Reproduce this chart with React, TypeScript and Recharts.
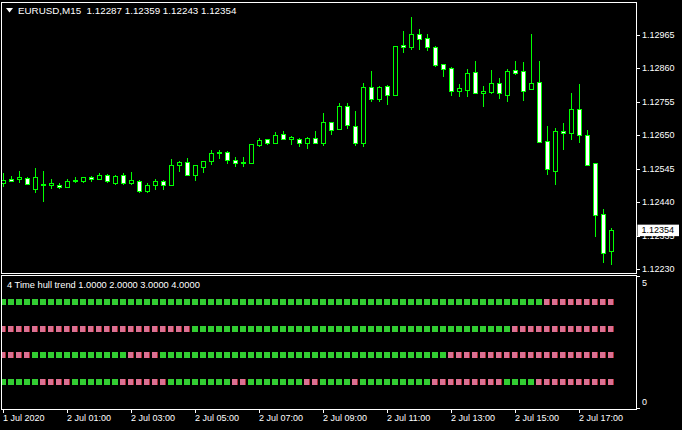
import React from 'react';
import { ComposedChart, Bar, Scatter, XAxis, YAxis, ReferenceLine } from 'recharts';

const W = 682;
const H = 430;
const FONT = '"Liberation Sans", Arial, sans-serif';
const LIME = '#00ff00';
const UP = '#32cd32';
const DOWN = '#db7093';

// EURUSD M15, 1 Jul 23:00 .. 2 Jul 18:00
const opens = [
  1.125, 1.12514, 1.12514, 1.12516, 1.12481, 1.12496, 1.12493, 1.12495, 1.12489, 1.12506,
  1.12508, 1.12518, 1.12512, 1.12524, 1.12501, 1.12524, 1.12501, 1.12508, 1.12474, 1.12495,
  1.12508, 1.12495, 1.12556, 1.12566, 1.12524, 1.12551, 1.12568, 1.12593, 1.12597, 1.12572,
  1.12562, 1.12564, 1.1262, 1.12637, 1.12625, 1.12654, 1.12639, 1.12639, 1.12627, 1.12641,
  1.12625, 1.12691, 1.1267, 1.12742, 1.12679, 1.12627, 1.128, 1.12764, 1.12804, 1.12775,
  1.12932, 1.12926, 1.12967, 1.12955, 1.12926, 1.12873, 1.12861, 1.12788, 1.12792, 1.12848,
  1.12781, 1.12785, 1.12813, 1.12777, 1.12854, 1.1285, 1.12794, 1.12817, 1.12631, 1.12539,
  1.12662, 1.12656, 1.12731, 1.1265, 1.12562, 1.12403, 1.12287,
];
const highs = [
  1.12532, 1.12522, 1.12537, 1.1252, 1.12547, 1.12537, 1.12514, 1.12501, 1.12514, 1.1252,
  1.12519, 1.12522, 1.12531, 1.12528, 1.12526, 1.12531, 1.12535, 1.1251, 1.12499, 1.12512,
  1.12509, 1.12575, 1.1257, 1.12578, 1.12557, 1.12569, 1.12604, 1.12604, 1.126, 1.12581,
  1.12581, 1.12623, 1.12641, 1.12638, 1.1266, 1.12662, 1.12648, 1.1264, 1.12643, 1.12662,
  1.12721, 1.12692, 1.12752, 1.12752, 1.12727, 1.12813, 1.12852, 1.12804, 1.12808, 1.12931,
  1.12978, 1.13021, 1.12984, 1.12967, 1.1293, 1.12874, 1.12865, 1.12811, 1.12857, 1.12884,
  1.12804, 1.12854, 1.12829, 1.12857, 1.12884, 1.12879, 1.12967, 1.12884, 1.12679, 1.12673,
  1.12689, 1.12783, 1.12811, 1.12666, 1.12563, 1.12418, 1.12359,
];
const lows = [
  1.12488, 1.12503, 1.12499, 1.12493, 1.1247, 1.12442, 1.12481, 1.12482, 1.12488, 1.12499,
  1.12499, 1.12503, 1.12511, 1.12501, 1.12495, 1.12495, 1.12495, 1.12468, 1.12468, 1.12478,
  1.12478, 1.12491, 1.12535, 1.12523, 1.12508, 1.12533, 1.12558, 1.12576, 1.1256, 1.1255,
  1.1255, 1.12563, 1.12612, 1.1262, 1.12624, 1.12638, 1.1262, 1.12614, 1.12608, 1.12626,
  1.12616, 1.12652, 1.12669, 1.1267, 1.12616, 1.12612, 1.12754, 1.12754, 1.12746, 1.12774,
  1.12907, 1.12917, 1.12917, 1.12913, 1.12865, 1.12833, 1.12773, 1.12771, 1.12771, 1.12782,
  1.12739, 1.12779, 1.12764, 1.12755, 1.1284, 1.12758, 1.12793, 1.12627, 1.12524, 1.12495,
  1.12604, 1.12635, 1.12627, 1.12555, 1.1233, 1.1225, 1.12243,
];
const closes = [
  1.1251, 1.12508, 1.12518, 1.12497, 1.12518, 1.12498, 1.12499, 1.12489, 1.12506, 1.1251,
  1.12518, 1.12512, 1.12524, 1.12506, 1.12522, 1.12501, 1.1251, 1.12474, 1.12493, 1.12506,
  1.12493, 1.12556, 1.12566, 1.12524, 1.12556, 1.12568, 1.12593, 1.12597, 1.12571, 1.12562,
  1.12566, 1.12622, 1.12635, 1.12625, 1.1265, 1.12639, 1.12643, 1.12627, 1.12641, 1.12627,
  1.12691, 1.12666, 1.12742, 1.12683, 1.12627, 1.128, 1.12763, 1.128, 1.12775, 1.1293,
  1.12926, 1.12967, 1.12951, 1.12927, 1.12871, 1.12858, 1.12788, 1.12798, 1.12844, 1.12783,
  1.1279, 1.12813, 1.12781, 1.1285, 1.12846, 1.12788, 1.12813, 1.12628, 1.12543, 1.12662,
  1.12658, 1.12731, 1.1265, 1.12556, 1.12399, 1.12282, 1.12354,
];

const priceTicks = [1.1223, 1.12335, 1.1244, 1.12545, 1.1265, 1.12755, 1.1286, 1.12965];
const timeTickBars = [0, 8, 16, 24, 32, 40, 48, 56, 64, 72];
const timeTickLabels = [
  '1 Jul 2020', '2 Jul 01:00', '2 Jul 03:00', '2 Jul 05:00', '2 Jul 07:00',
  '2 Jul 09:00', '2 Jul 11:00', '2 Jul 13:00', '2 Jul 15:00', '2 Jul 17:00',
];

// hull trend lines, read as runs of [colour, bars]: g = up, r = down
const trend4Runs: [string, number][] = [['g', 68], ['r', 9]];
const trend3Runs: [string, number][] = [['r', 24], ['g', 40], ['r', 13]];
const trend2Runs: [string, number][] = [['r', 4], ['g', 12], ['r', 4], ['g', 36], ['r', 21]];
const trend1Runs: [string, number][] = [
  ['g', 5], ['r', 4], ['g', 6], ['r', 6], ['g', 8], ['r', 2], ['g', 7],
  ['r', 2], ['g', 4], ['r', 1], ['g', 9], ['r', 9], ['g', 4], ['r', 10],
];

const candles = opens.map((o, i) => ({ i, open: o, high: highs[i], low: lows[i], close: closes[i] }));

const rowData = (runs: [string, number][], v: number) => {
  const out: { i: number; v: number; c: string }[] = [];
  runs.forEach(([c, n]) => {
    for (let k = 0; k < n; k++) out.push({ i: out.length, v, c });
  });
  return out;
};

const xDomain = [-0.1875, 79.0625];
const lastClose = closes[closes.length - 1];

function Candle(props: any) {
  const { x, y, width, height, payload } = props;
  if (x == null || !payload) return null;
  const { open, high, low, close } = payload;
  const k = height / (high - low);
  const cx = Math.floor(x + width / 2) + 0.5;
  const py = (v: number) => y + (high - v) * k;
  const top = Math.round(py(Math.max(open, close)));
  const bot = Math.round(py(Math.min(open, close)));
  const bear = close < open;
  return (
    <g>
      <line x1={cx} x2={cx} y1={Math.round(y)} y2={Math.round(y + height)} stroke={LIME} strokeWidth={1} />
      <rect x={cx - 2} y={top + 0.5} width={4} height={Math.max(bot - top, 1)}
        fill={bear ? '#ffffff' : '#000000'} stroke={LIME} strokeWidth={1} />
    </g>
  );
}

function Block(props: any) {
  const { cx, cy, payload } = props;
  if (cx == null) return null;
  const left = Math.round(cx - 3.5);
  const top = Math.round(cy - 3);
  if (payload.c === 'g') return <rect x={left} y={top} width={6} height={6} fill={UP} />;
  return (
    <g>
      <rect x={left} y={top} width={5} height={6} fill={DOWN} />
      <rect x={left + 5} y={top} width={1} height={6} fill="#a52a2a" />
    </g>
  );
}

function PriceTick(props: any) {
  const { x, y, payload } = props;
  const ly = Math.round(y) + 0.5;
  return (
    <g>
      <line x1={x - 5} x2={x - 2} y1={ly} y2={ly} stroke="#fff" />
      <text x={x} y={y} dominantBaseline="central" fill="#fff" fontSize={9} fontFamily={FONT}>
        {payload.value.toFixed(5)}
      </text>
    </g>
  );
}

function LevelTick(props: any) {
  const { x, y, payload } = props;
  const ly = Math.round(y) + 0.5;
  const ty = payload.value > 0 ? y + 7 : y - 6;
  return (
    <g>
      <line x1={x - 5} x2={x - 2} y1={ly} y2={ly} stroke="#fff" />
      <text x={x} y={ty} dominantBaseline="central" fill="#fff" fontSize={9} fontFamily={FONT}>
        {payload.value}
      </text>
    </g>
  );
}

function TimeTick(props: any) {
  const { x, y, payload } = props;
  const idx = timeTickBars.indexOf(payload.value);
  const lx = Math.floor(x) + 0.5;
  return (
    <g>
      <line x1={lx} x2={lx} y1={y - 5} y2={y - 1} stroke="#fff" />
      <text x={lx - 0.5} y={y + 4} dominantBaseline="central" fill="#fff" fontSize={9} fontFamily={FONT}>
        {timeTickLabels[idx]}
      </text>
    </g>
  );
}

function LastPrice(props: any) {
  const { viewBox } = props;
  if (!viewBox) return null;
  const x = viewBox.x + viewBox.width + 1.5;
  const y = viewBox.y;
  return (
    <g>
      <rect x={x} y={y - 5} width={41.5} height={11.5} fill="#ffffff" />
      <text x={x + 4} y={y + 0.8} dominantBaseline="central" fill="#000" fontSize={9} fontFamily={FONT}>
        {lastClose.toFixed(5)}
      </text>
    </g>
  );
}

const layer: React.CSSProperties = { position: 'absolute', left: 0, top: 0 };

export default function App() {
  return (
    <div style={{ position: 'absolute', left: 0, top: 0, width: W, height: H, background: '#000', overflow: 'hidden' }}>
      <div style={{ ...layer, left: 1, top: 2, width: 636, height: 272, border: '1px solid #fff', boxSizing: 'border-box' }} />
      <div style={{ ...layer, left: 1, top: 275, width: 636, height: 135, border: '1px solid #fff', boxSizing: 'border-box' }} />

      <div style={layer}>
        <ComposedChart width={W} height={H} data={candles} margin={{ top: 2, right: 0, bottom: 157, left: 2 }}>
          <XAxis dataKey="i" type="number" domain={xDomain} hide allowDataOverflow />
          <YAxis orientation="right" type="number" domain={[1.122181, 1.130675]} ticks={priceTicks}
            interval={0} width={46} axisLine={false} tickLine={false} tickSize={4} tickMargin={2}
            tick={<PriceTick />} allowDataOverflow />
          <Bar dataKey={(d: any) => [d.low, d.high]} barSize={5} shape={<Candle />} isAnimationActive={false} />
          <ReferenceLine y={lastClose} stroke="none" label={<LastPrice />} />
        </ComposedChart>
      </div>

      <div style={layer}>
        <ComposedChart width={W} height={H} margin={{ top: 276, right: 0, bottom: 0, left: 2 }}>
          <XAxis dataKey="i" type="number" domain={xDomain} ticks={timeTickBars} interval={0}
            axisLine={false} tickLine={false} tickSize={4} tickMargin={2} tick={<TimeTick />}
            height={22} allowDataOverflow />
          <YAxis dataKey="v" orientation="right" type="number" domain={[0, 5]} ticks={[0, 5]} interval={0}
            width={46} axisLine={false} tickLine={false} tickSize={4} tickMargin={2} tick={<LevelTick />} />
          <Scatter data={rowData(trend4Runs, 4)} shape={<Block />} isAnimationActive={false} />
          <Scatter data={rowData(trend3Runs, 3)} shape={<Block />} isAnimationActive={false} />
          <Scatter data={rowData(trend2Runs, 2)} shape={<Block />} isAnimationActive={false} />
          <Scatter data={rowData(trend1Runs, 1)} shape={<Block />} isAnimationActive={false} />
        </ComposedChart>
      </div>

      <svg style={{ ...layer, left: 6, top: 8 }} width={8} height={5}>
        <polygon points="0,0 7,0 3.5,4.5" fill="#fff" />
      </svg>
      <div style={{ ...layer, left: 18, top: 6.4, color: '#fff', fontFamily: FONT, fontSize: 9.8, lineHeight: 1, whiteSpace: 'pre' }}>
        {`EURUSD,M15  ${opens[76].toFixed(5)} ${highs[76].toFixed(5)} ${lows[76].toFixed(5)} ${closes[76].toFixed(5)}`}
      </div>
      <div style={{ ...layer, left: 7, top: 280.5, color: '#fff', fontFamily: FONT, fontSize: 9.3, lineHeight: 1, whiteSpace: 'pre' }}>
        4 Time hull trend 1.0000 2.0000 3.0000 4.0000
      </div>
    </div>
  );
}
